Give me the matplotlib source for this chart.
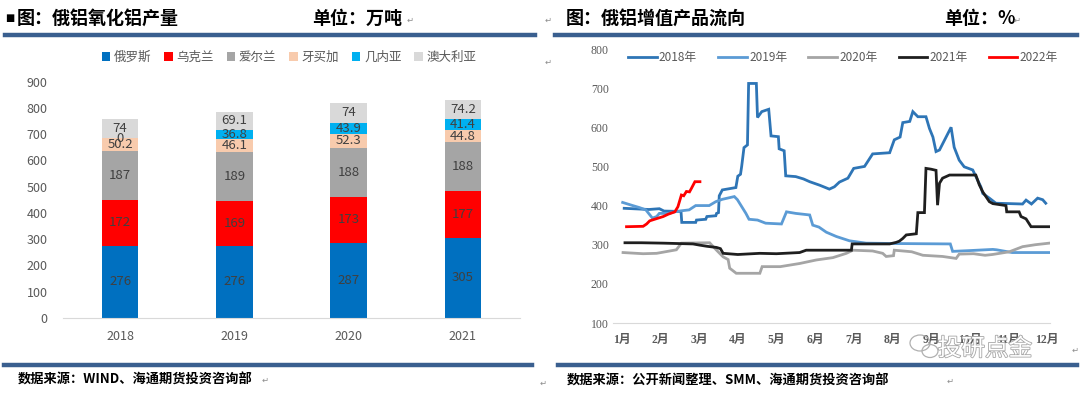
import matplotlib
matplotlib.use('Agg')
import matplotlib.pyplot as plt
import matplotlib.patheffects as pe
from matplotlib.lines import Line2D
from matplotlib.patches import Ellipse
import numpy as np

plt.rcParams['font.family'] = ['Noto Sans CJK SC', 'DejaVu Sans']

# ---- left chart data (万吨)
years = ['2018', '2019', '2020', '2021']
series_names = ['俄罗斯', '乌克兰', '爱尔兰', '牙买加', '几内亚', '澳大利亚']
russia = [276, 276, 287, 305]
ukraine = [172, 169, 173, 177]
ireland = [187, 189, 188, 188]
jamaica = [50.2, 46.1, 52.3, 44.8]
guinea = [0, 36.8, 43.9, 41.4]
australia = [74, 69.1, 74, 74.2]
bar_colors = ['#0070C0', '#FF0000', '#A5A5A5', '#F8CBAD', '#00B0F0', '#D9D9D9']

# ---- right chart data (x = month index, 0 = 1月)
months = ['1月', '2月', '3月', '4月', '5月', '6月', '7月', '8月', '9月', '10月', '11月', '12月']
m2018 = [0.06, 0.7, 0.97, 1.09, 1.53, 1.55, 1.91, 1.93, 2.17, 2.2, 2.43, 2.45, 2.5, 2.52, 2.6, 2.95,
         3.0, 3.07, 3.1, 3.16, 3.25, 3.28, 3.48, 3.51, 3.62, 3.8, 3.86, 4.05, 4.07, 4.2, 4.24, 4.5,
         4.7, 4.86, 5.12, 5.37, 5.5, 5.63, 5.85, 6.0, 6.28, 6.49, 6.93, 7.05, 7.2, 7.27, 7.45, 7.53,
         7.66, 7.87, 7.96, 8.05, 8.13, 8.22, 8.52, 8.6, 8.73, 8.86, 9.08, 9.29, 9.34, 9.51, 9.68,
         10.37, 10.46, 10.6, 10.76, 10.89, 10.97]
v2018 = [393, 390, 392, 386, 385, 357, 357, 363, 365, 372, 374, 380, 382, 425, 440, 446,
         475, 480, 500, 548, 555, 712, 712, 625, 640, 646, 578, 576, 545, 540, 476, 474,
         468, 461, 452, 442, 448, 460, 470, 495, 500, 532, 535, 568, 575, 612, 615, 640,
         627, 627, 597, 575, 538, 542, 600, 549, 516, 499, 491, 448, 431, 419, 406,
         404, 414, 404, 419, 415, 406]
m2019 = [0.02, 0.28, 0.45, 0.62, 0.79, 0.9, 0.97, 1.22, 1.4, 1.74, 1.91, 2.26, 2.43, 2.6, 2.91,
         2.99, 3.21, 3.29, 3.51, 3.72, 4.13, 4.26, 4.5, 4.86, 4.94, 5.1, 5.29, 5.55, 5.89, 6.32,
         7.1, 8.5, 8.56, 9.0, 9.6, 9.7, 10.1, 11.06]
v2019 = [408, 400, 395, 389, 368, 372, 380, 380, 385, 389, 400, 400, 410, 416, 423,
         415, 380, 365, 363, 355, 353, 384, 380, 376, 350, 345, 332, 321, 310, 304,
         303, 302, 283, 285, 288, 287, 280, 280]
m2020 = [0.03, 0.55, 0.9, 1.24, 1.41, 1.54, 2.27, 2.45, 2.62, 2.75, 2.79, 2.96, 3.57, 3.63, 4.1,
         4.6, 5.03, 5.46, 5.81, 5.98, 6.49, 6.75, 6.84, 7.03, 7.05, 7.5, 7.79, 8.3, 8.65, 8.73,
         9.1, 9.4, 9.59, 10.03, 10.37, 10.7, 11.06]
v2020 = [280, 277, 278, 284, 287, 304, 305, 286, 269, 262, 240, 227, 227, 244, 244,
         252, 261, 267, 278, 286, 284, 278, 270, 272, 286, 282, 273, 270, 265, 276,
         277, 273, 275, 282, 295, 300, 304]
m2021 = [0.08, 0.5, 1.07, 1.84, 2.01, 2.2, 2.45, 2.55, 2.62, 3.0, 3.57, 4.0, 4.6, 4.77, 5.94,
         5.96, 6.93, 7.1, 7.18, 7.27, 7.36, 7.62, 7.66, 7.83, 7.87, 8.0, 8.13, 8.17, 8.22, 8.3,
         8.48, 9.16, 9.25, 9.34, 9.51, 9.6, 9.94, 9.96, 10.28, 10.33, 10.46, 10.59, 11.06]
v2021 = [305, 305, 304, 302, 299, 296, 293, 290, 278, 275, 278, 277, 280, 286, 286,
         302, 302, 306, 309, 316, 325, 328, 382, 382, 495, 493, 490, 401, 457, 470,
         478, 478, 453, 435, 410, 405, 400, 384, 384, 372, 366, 346, 346]
m2022 = [0.12, 0.55, 0.64, 0.72, 1.07, 1.2, 1.37, 1.45, 1.54, 1.6, 1.67, 1.75, 1.8, 1.89, 2.02]
v2022 = [346, 347, 353, 361, 372, 378, 384, 397, 427, 425, 436, 435, 444, 461, 461]
line_labels = ['2018年', '2019年', '2020年', '2021年', '2022年']
line_colors = ['#2E75B6', '#5B9BD5', '#A5A5A5', '#1F1F1F', '#FF0000']

W, H = 1080, 396
fig = plt.figure(figsize=(W / 100, H / 100), dpi=100)


def fx(px):
    return px / W


def fy(py):
    return 1 - py / H


# ---- header / footer decorations
rule_c = '#3A5F8F'
for x0, x1, y in [(5, 535, 35), (555, 1077, 35), (4, 532, 365), (558, 1077, 365)]:
    fig.add_artist(Line2D([fx(x0), fx(x1)], [fy(y), fy(y)], color=rule_c, lw=3.2))

fig.text(fx(5), fy(18), '■', fontsize=7, va='center', family='DejaVu Sans')
fig.text(fx(17), fy(18), '图：俄铝氧化铝产量', fontsize=13, fontweight='bold', va='center')
fig.text(fx(312), fy(18), '单位：万吨', fontsize=13, fontweight='bold', va='center')
fig.text(fx(566), fy(18), '图：俄铝增值产品流向', fontsize=13, fontweight='bold', va='center')
fig.text(fx(944), fy(18), '单位：%', fontsize=13, fontweight='bold', va='center')
fig.text(fx(18), fy(380), '数据来源：WIND、海通期货投资咨询部', fontsize=9.5, fontweight='bold', va='center')
fig.text(fx(567), fy(381), '数据来源：公开新闻整理、SMM、海通期货投资咨询部', fontsize=9.5,
         fontweight='bold', va='center')
for px, py in [(407, 20), (545, 20), (1014, 20), (545, 62), (262, 380), (540, 383), (947, 381), (1072, 350)]:
    fig.text(fx(px), fy(py), '↵', fontsize=6, color='#8C8C8C', va='center', family='DejaVu Sans')

# ---- left: stacked bars
ax1 = fig.add_axes([fx(63), fy(318), fx(520) - fx(63), fy(81.7) - fy(318)])
x = np.arange(len(years))
stack = [russia, ukraine, ireland, jamaica, guinea, australia]
bottom = np.zeros(len(years))
for name, vals, c in zip(series_names, stack, bar_colors):
    vals = np.array(vals, dtype=float)
    ax1.bar(x, vals, 0.32, bottom=bottom, color=c, label=name)
    for xi, b, v in zip(x, bottom, vals):
        ax1.text(xi, b + v / 2, '{:g}'.format(v), ha='center', va='center',
                 fontsize=9.5, color='#404040')
    bottom += vals

ax1.set_xlim(-0.5, 3.5)
ax1.set_ylim(0, 900)
ax1.set_yticks(np.arange(0, 901, 100))
ax1.set_xticks(x)
ax1.set_xticklabels(years)
for s in ['top', 'right', 'left']:
    ax1.spines[s].set_visible(False)
ax1.spines['bottom'].set_color('#D9D9D9')
ax1.tick_params(axis='both', length=0, labelsize=9, labelcolor='#595959')
ax1.tick_params(axis='y', pad=11)
ax1.tick_params(axis='x', pad=9)
ax1.legend(loc='center', bbox_to_anchor=(fx(289), fy(57)), bbox_transform=fig.transFigure,
           ncol=6, frameon=False, fontsize=9, handlelength=0.7, handleheight=0.7,
           handletextpad=0.3, columnspacing=1.0, labelcolor='#595959')

# ---- right: lines
ax2 = fig.add_axes([fx(613), fy(323), fx(1050) - fx(613), fy(49) - fy(323)])
for mm, vv, lab, c in zip([m2018, m2019, m2020, m2021, m2022],
                          [v2018, v2019, v2020, v2021, v2022], line_labels, line_colors):
    ax2.plot(mm, vv, color=c, lw=2.0, label=lab, solid_joinstyle='miter')

ax2.set_xlim(-0.23, 11.08)
ax2.set_ylim(100, 800)
ax2.set_yticks(np.arange(100, 801, 100))
ax2.set_xticks(np.arange(12))
ax2.set_xticklabels(months, family=['Liberation Serif', 'Noto Sans CJK SC'], fontweight='bold')
for lbl in ax2.get_yticklabels():
    lbl.set_family('Liberation Serif')
for s in ['top', 'right', 'left']:
    ax2.spines[s].set_visible(False)
ax2.spines['bottom'].set_color('#D9D9D9')
ax2.tick_params(axis='both', length=0, labelsize=8.5, labelcolor='#595959')
ax2.tick_params(axis='y', pad=3)
ax2.tick_params(axis='x', pad=8)
ax2.legend(loc='center', bbox_to_anchor=(fx(843), fy(58)), bbox_transform=fig.transFigure,
           ncol=5, frameon=False, fontsize=8.5, handlelength=2.4, handletextpad=0.2,
           columnspacing=1.8, labelcolor='#595959')

# watermark (wechat-style icon + name)
for cx, cy, w, h in [(920, 343, 20, 16), (930, 351, 16, 13)]:
    fig.add_artist(Ellipse((fx(cx), fy(cy)), fx(w), h / H, fill=False,
                           edgecolor='#B0B0B0', lw=0.9))
fig.text(fx(985), fy(349), '投研点金', fontsize=17, color='white', ha='center', va='center',
         path_effects=[pe.withStroke(linewidth=1.2, foreground='#A6A6A6')])

fig.savefig('out.png', dpi=100)
